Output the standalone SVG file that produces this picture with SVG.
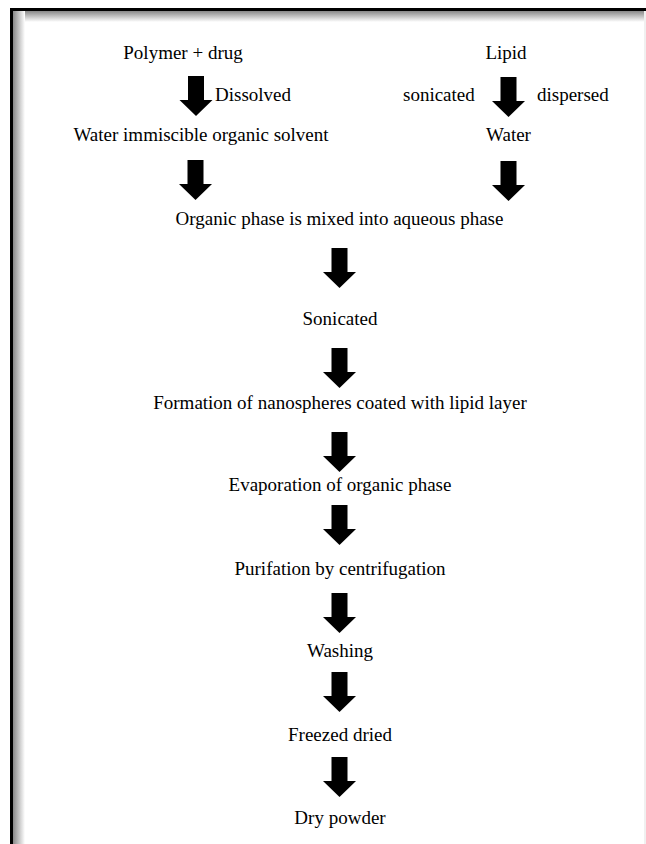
<svg xmlns="http://www.w3.org/2000/svg" xmlns:xlink="http://www.w3.org/1999/xlink" width="646" height="844" viewBox="0 0 646 844">
<defs>
<style>
text{font-size:19px;fill:#000}
.c{text-anchor:middle}
</style>
<linearGradient id="gt" x1="0" y1="0" x2="0" y2="1"><stop offset="0" stop-color="#888"/><stop offset="1" stop-color="#fff"/></linearGradient>
<linearGradient id="gl" x1="0" y1="0" x2="1" y2="0"><stop offset="0" stop-color="#888"/><stop offset="1" stop-color="#fff"/></linearGradient>
<path id="arr" d="M-8,0 H8 V24 H16.5 L0,40 L-16.5,24 H-8 Z" fill="#000"/>
</defs>
<rect width="646" height="844" fill="#fff"/>
<g id="frame">
<rect x="12" y="11" width="634" height="11" fill="url(#gt)"/>
<rect x="13" y="11" width="12" height="833" fill="url(#gl)"/>
<rect x="10" y="8" width="636" height="3" fill="#000"/>
<rect x="10" y="8" width="3" height="836" fill="#000"/>
<rect x="644" y="11" width="2" height="833" fill="#f0f0f0"/>
</g>
<g id="connectors">
<use xlink:href="#arr" x="196" y="76"/>
<use xlink:href="#arr" x="508.5" y="77"/>
<use xlink:href="#arr" x="195.5" y="160"/>
<use xlink:href="#arr" x="508.5" y="161"/>
<use xlink:href="#arr" x="339.5" y="248"/>
<use xlink:href="#arr" x="339.5" y="348"/>
<use xlink:href="#arr" x="339.5" y="432"/>
<use xlink:href="#arr" x="339.5" y="505"/>
<use xlink:href="#arr" x="339.5" y="593"/>
<use xlink:href="#arr" x="339.5" y="672"/>
<use xlink:href="#arr" x="339.5" y="757"/>
</g>
<g font-family="'Liberation Serif', 'Times New Roman', Times, serif">
<g id="n-polymer"><text class="c" x="183" y="59">Polymer + drug</text></g>
<g id="n-lipid"><text class="c" x="506" y="59">Lipid</text></g>
<g id="l-dissolved"><text x="215" y="101">Dissolved</text></g>
<g id="l-sonicated"><text x="403" y="101">sonicated</text></g>
<g id="l-dispersed"><text x="537" y="101">dispersed</text></g>
<g id="n-solvent"><text class="c" x="201" y="141">Water immiscible organic solvent</text></g>
<g id="n-water"><text class="c" x="508.5" y="141">Water</text></g>
<g id="n-mixed"><text class="c" x="339.5" y="225">Organic phase is mixed into aqueous phase</text></g>
<g id="n-sonicated"><text class="c" x="340" y="325">Sonicated</text></g>
<g id="n-formation"><text class="c" x="340" y="409">Formation of nanospheres coated with lipid layer</text></g>
<g id="n-evaporation"><text class="c" x="340" y="491">Evaporation of organic phase</text></g>
<g id="n-purification"><text class="c" x="340" y="575">Purifation by centrifugation</text></g>
<g id="n-washing"><text class="c" x="340" y="657">Washing</text></g>
<g id="n-freezed"><text class="c" x="340" y="741">Freezed dried</text></g>
<g id="n-powder"><text class="c" x="340" y="824">Dry powder</text></g>
</g>
</svg>
